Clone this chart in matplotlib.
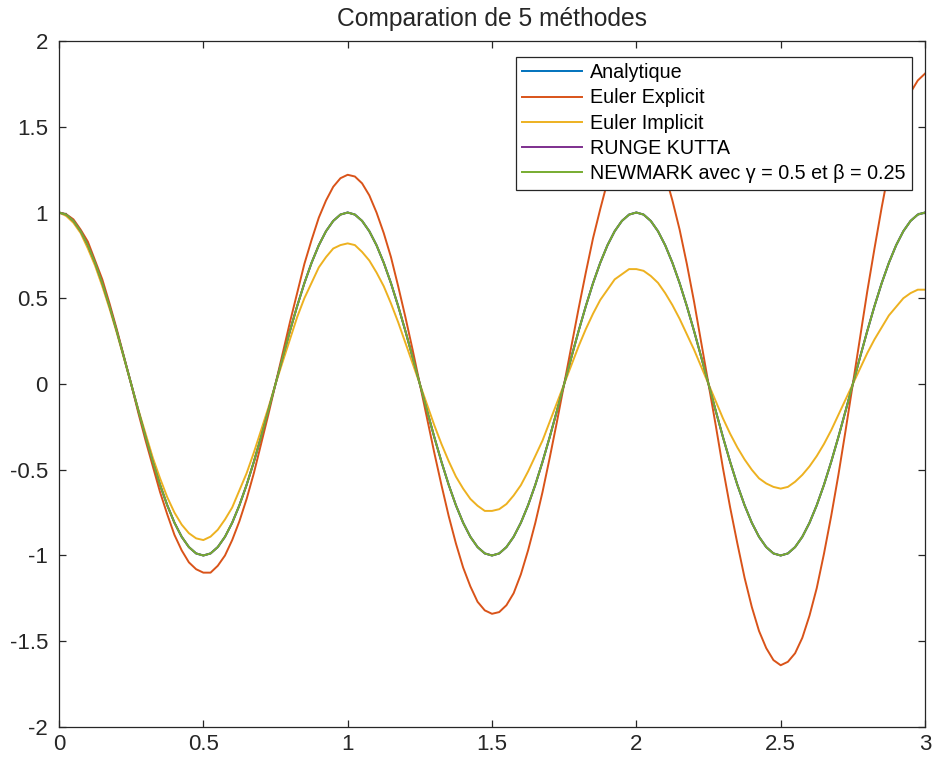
import numpy as np
import matplotlib.pyplot as plt

# time samples (step 0.025 from 0 to 3)
t = np.round(np.arange(121) * 0.025, 3)

# values
one_period = [1.000, 0.988, 0.951, 0.891, 0.809, 0.707, 0.588, 0.454, 0.309, 0.156,
              0.000, -0.156, -0.309, -0.454, -0.588, -0.707, -0.809, -0.891, -0.951, -0.988,
              -1.000, -0.988, -0.951, -0.891, -0.809, -0.707, -0.588, -0.454, -0.309, -0.156,
              0.000, 0.156, 0.309, 0.454, 0.588, 0.707, 0.809, 0.891, 0.951, 0.988]
analytique = one_period * 3 + [1.000]

euler_explicit = [1.00, 0.99, 0.96, 0.90, 0.83, 0.72, 0.61, 0.47, 0.32, 0.16,
                  0.00, -0.17, -0.33, -0.48, -0.63, -0.76, -0.88, -0.97, -1.04, -1.08,
                  -1.10, -1.10, -1.06, -1.00, -0.91, -0.80, -0.67, -0.52, -0.35, -0.18,
                  0.00, 0.18, 0.36, 0.53, 0.70, 0.84, 0.97, 1.07, 1.15, 1.20,
                  1.22, 1.21, 1.17, 1.10, 1.00, 0.88, 0.74, 0.57, 0.39, 0.20,
                  0.00, -0.20, -0.40, -0.59, -0.77, -0.93, -1.07, -1.18, -1.27, -1.32,
                  -1.34, -1.33, -1.29, -1.22, -1.11, -0.97, -0.81, -0.63, -0.43, -0.22,
                  0.00, 0.22, 0.44, 0.65, 0.85, 1.02, 1.18, 1.30, 1.40, 1.46,
                  1.48, 1.47, 1.42, 1.34, 1.22, 1.07, 0.90, 0.70, 0.48, 0.24,
                  0.00, -0.24, -0.49, -0.72, -0.93, -1.13, -1.30, -1.44, -1.54, -1.61,
                  -1.64, -1.62, -1.57, -1.48, -1.35, -1.19, -0.99, -0.77, -0.53, -0.27,
                  0.00, 0.27, 0.54, 0.79, 1.03, 1.25, 1.43, 1.59, 1.70, 1.77,
                  1.81]

euler_implicit = [1.00, 0.98, 0.94, 0.88, 0.79, 0.69, 0.57, 0.44, 0.30, 0.15,
                  0.00, -0.15, -0.29, -0.43, -0.55, -0.66, -0.75, -0.82, -0.87, -0.90,
                  -0.91, -0.89, -0.85, -0.79, -0.72, -0.62, -0.52, -0.40, -0.27, -0.14,
                  0.00, 0.13, 0.26, 0.39, 0.50, 0.59, 0.68, 0.74, 0.79, 0.81,
                  0.82, 0.81, 0.77, 0.72, 0.65, 0.57, 0.47, 0.36, 0.24, 0.12,
                  0.00, -0.12, -0.24, -0.35, -0.45, -0.54, -0.61, -0.67, -0.71, -0.74,
                  -0.74, -0.73, -0.70, -0.65, -0.59, -0.51, -0.42, -0.33, -0.22, -0.11,
                  0.00, 0.11, 0.22, 0.32, 0.41, 0.49, 0.55, 0.61, 0.64, 0.67,
                  0.67, 0.66, 0.63, 0.59, 0.53, 0.46, 0.38, 0.29, 0.20, 0.10,
                  0.00, -0.10, -0.20, -0.29, -0.37, -0.44, -0.50, -0.55, -0.58, -0.60,
                  -0.61, -0.60, -0.57, -0.53, -0.48, -0.42, -0.35, -0.27, -0.18, -0.09,
                  0.00, 0.09, 0.18, 0.26, 0.33, 0.40, 0.45, 0.50, 0.53, 0.55,
                  0.55]

runge_kutta = list(analytique)
newmark = list(analytique)

labels = ['Analytique', 'Euler Explicit', 'Euler Implicit', 'RUNGE KUTTA',
          'NEWMARK avec γ = 0.5 et β = 0.25']
colors = ['#0072BD', '#D95319', '#EDB120', '#7E2F8E', '#77AC30']

plt.rcParams['font.family'] = ['Liberation Sans', 'DejaVu Sans']

fig = plt.figure(figsize=(9.35, 7.61), dpi=100)
ax = fig.add_axes([0.0631, 0.0447, 0.9262, 0.9014])

series = [analytique, euler_explicit, euler_implicit, runge_kutta, newmark]
for y, lab, c in zip(series, labels, colors):
    ax.plot(t, y, color=c, lw=1.4, label=lab)

ax.set_xlim(0, 3)
ax.set_ylim(-2, 2)
ax.set_xticks(np.arange(0, 3.01, 0.5))
ax.set_xticklabels(['0', '0.5', '1', '1.5', '2', '2.5', '3'])
ax.set_yticks(np.arange(-2, 2.01, 0.5))
ax.set_yticklabels(['-2', '-1.5', '-1', '-0.5', '0', '0.5', '1', '1.5', '2'])
ax.tick_params(direction='in', top=True, right=True, length=5, width=0.9,
               labelsize=16, colors='#262626')
ax.tick_params(axis='x', pad=5)
ax.tick_params(axis='y', pad=8)
for s in ax.spines.values():
    s.set_color('#262626')
    s.set_linewidth(0.9)

ax.set_title('Comparation de 5 méthodes', fontsize=17.7, color='#262626', pad=11)

leg = ax.legend(loc='upper right', bbox_to_anchor=(0.985, 0.977), borderaxespad=0,
                fontsize=14.2, fancybox=False, framealpha=1, edgecolor='#262626',
                handlelength=3.05, handletextpad=0.4, labelspacing=0.32,
                borderpad=0.32)
leg.get_frame().set_linewidth(0.9)

fig.savefig('out.png', dpi=100)
